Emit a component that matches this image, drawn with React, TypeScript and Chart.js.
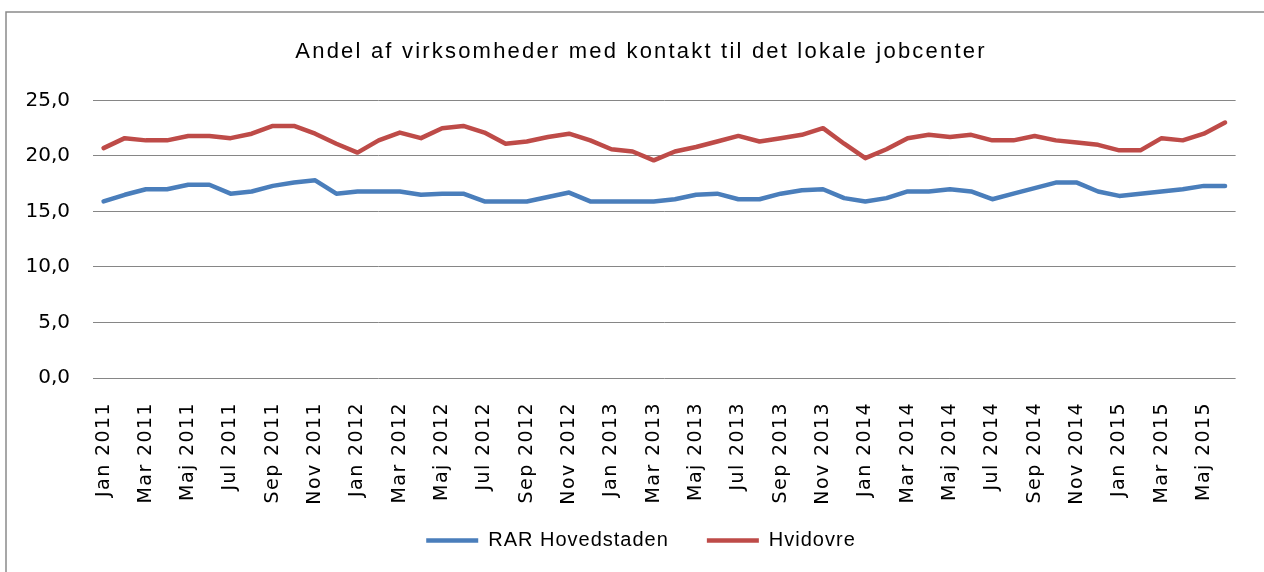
import { useEffect, useRef } from 'react';
import { Chart, registerables } from 'chart.js';

Chart.register(...registerables);

const categories = [
  'Jan 2011', 'Feb 2011', 'Mar 2011', 'Apr 2011', 'Maj 2011', 'Jun 2011', 'Jul 2011', 'Aug 2011', 'Sep 2011', 'Okt 2011', 'Nov 2011', 'Dec 2011',
  'Jan 2012', 'Feb 2012', 'Mar 2012', 'Apr 2012', 'Maj 2012', 'Jun 2012', 'Jul 2012', 'Aug 2012', 'Sep 2012', 'Okt 2012', 'Nov 2012', 'Dec 2012',
  'Jan 2013', 'Feb 2013', 'Mar 2013', 'Apr 2013', 'Maj 2013', 'Jun 2013', 'Jul 2013', 'Aug 2013', 'Sep 2013', 'Okt 2013', 'Nov 2013', 'Dec 2013',
  'Jan 2014', 'Feb 2014', 'Mar 2014', 'Apr 2014', 'Maj 2014', 'Jun 2014', 'Jul 2014', 'Aug 2014', 'Sep 2014', 'Okt 2014', 'Nov 2014', 'Dec 2014',
  'Jan 2015', 'Feb 2015', 'Mar 2015', 'Apr 2015', 'Maj 2015', 'Jun 2015',
];

const rarHovedstaden = [
  15.9, 16.5, 17.0, 17.0, 17.4, 17.4, 16.6, 16.8, 17.3, 17.6, 17.8, 16.6,
  16.8, 16.8, 16.8, 16.5, 16.6, 16.6, 15.9, 15.9, 15.9, 16.3, 16.7, 15.9,
  15.9, 15.9, 15.9, 16.1, 16.5, 16.6, 16.1, 16.1, 16.6, 16.9, 17.0, 16.2,
  15.9, 16.2, 16.8, 16.8, 17.0, 16.8, 16.1, 16.6, 17.1, 17.6, 17.6, 16.8,
  16.4, 16.6, 16.8, 17.0, 17.3, 17.3,
];

const hvidovre = [
  20.7, 21.6, 21.4, 21.4, 21.8, 21.8, 21.6, 22.0, 22.7, 22.7, 22.0, 21.1,
  20.3, 21.4, 22.1, 21.6, 22.5, 22.7, 22.1, 21.1, 21.3, 21.7, 22.0, 21.4,
  20.6, 20.4, 19.6, 20.4, 20.8, 21.3, 21.8, 21.3, 21.6, 21.9, 22.5, 21.1,
  19.8, 20.6, 21.6, 21.9, 21.7, 21.9, 21.4, 21.4, 21.8, 21.4, 21.2, 21.0,
  20.5, 20.5, 21.6, 21.4, 22.0, 23.0,
];

const seriesNames = ['RAR Hovedstaden', 'Hvidovre'];
const chartTitle = 'Andel af virksomheder med kontakt til det lokale jobcenter';
const yMin = 0;
const yMax = 25;
const yStep = 5;

const spacingPlugin = {
  id: 'letterSpacingPlugin',
  beforeLayout(chart: any) {
    chart.ctx.letterSpacing = '1px';
  },
  afterLayout(chart: any) {
    chart.ctx.letterSpacing = '0px';
    const wrap = (obj: any, key: string, sp: string) => {
      if (!obj || obj['__wrapped_' + key]) return;
      const orig = obj[key];
      obj[key] = function (...args: any[]) {
        const c = chart.ctx;
        c.save();
        c.letterSpacing = sp;
        const r = orig.apply(this, args);
        c.restore();
        return r;
      };
      obj['__wrapped_' + key] = true;
    };
    wrap(chart.scales.x, 'drawLabels', '1.4px');
    wrap(chart.scales.y, 'drawLabels', '0px');
    wrap(chart.titleBlock, 'draw', '2.2px');
    wrap(chart.legend, 'draw', '1px');
    // do not clip tick labels to the scale boxes
    chart.scales.x._computeLabelArea = () => undefined;
    chart.scales.y._computeLabelArea = () => undefined;
  },
};

const framePlugin = {
  id: 'framePlugin',
  beforeDraw(chart: any) {
    const ctx = chart.ctx;
    ctx.save();
    ctx.fillStyle = '#ffffff';
    ctx.fillRect(0, 0, chart.width, chart.height);
    ctx.strokeStyle = '#8a8a8a';
    ctx.lineWidth = 1.5;
    ctx.beginPath();
    ctx.moveTo(6, chart.height);
    ctx.lineTo(6, 12);
    ctx.lineTo(chart.width, 12);
    ctx.stroke();
    ctx.restore();
  },
};

export default function App() {
  const canvasRef = useRef<HTMLCanvasElement | null>(null);

  useEffect(() => {
    if (!canvasRef.current) return;
    const chart = new Chart(canvasRef.current, {
      type: 'line',
      data: {
        labels: categories,
        datasets: [
          {
            label: seriesNames[0],
            data: rarHovedstaden,
            borderColor: '#4A7EBB',
            backgroundColor: '#4A7EBB',
            borderWidth: 4.5,
            pointRadius: 0,
            tension: 0,
            borderCapStyle: 'round',
            borderJoinStyle: 'round',
          },
          {
            label: seriesNames[1],
            data: hvidovre,
            borderColor: '#BE4B48',
            backgroundColor: '#BE4B48',
            borderWidth: 4.5,
            pointRadius: 0,
            tension: 0,
            borderCapStyle: 'round',
            borderJoinStyle: 'round',
          },
        ],
      },
      options: {
        responsive: false,
        animation: false,
        devicePixelRatio: 1,
        layout: { padding: { left: 35, right: 17, top: 0, bottom: 11.5 } },
        plugins: {
          tooltip: { enabled: false },
          title: {
            display: true,
            text: chartTitle,
            color: '#000000',
            font: { family: '"Liberation Sans", sans-serif', size: 22, weight: 'normal' },
            padding: { top: 38.5, bottom: 35.5 },
          },
          legend: {
            display: true,
            position: 'bottom',
            labels: {
              usePointStyle: true,
              pointStyle: 'line',
              pointStyleWidth: 52,
              padding: 38,
              color: '#000000',
              font: { family: '"Liberation Sans", sans-serif', size: 20 },
            },
          },
        },
        scales: {
          x: {
            type: 'category',
            offset: true,
            grid: { display: false },
            border: { display: false },
            ticks: {
              autoSkip: false,
              maxRotation: 90,
              minRotation: 90,
              padding: 16,
              color: '#000000',
              font: { family: '"DejaVu Sans", sans-serif', size: 19 },
              callback: (_v: any, i: number) => (i % 2 === 0 ? categories[i] : ''),
            },
            afterFit: (s: any) => {
              s.height = 114.5;
            },
          },
          y: {
            min: yMin,
            max: yMax,
            grid: { color: '#868686', lineWidth: 1, drawTicks: false },
            border: { display: false },
            ticks: {
              stepSize: yStep,
              padding: 23,
              color: '#000000',
              font: { family: '"DejaVu Sans", sans-serif', size: 20 },
              callback: (v: any) => Number(v).toFixed(1).replace('.', ','),
            },
            afterFit: (s: any) => {
              s.width = 58;
            },
          },
        },
      },
      plugins: [spacingPlugin, framePlugin],
    } as any);
    return () => chart.destroy();
  }, []);

  return (
    <canvas
      ref={canvasRef}
      width={1264}
      height={572}
      style={{ position: 'fixed', left: 0, top: 0, width: 1264, height: 572, display: 'block' }}
    />
  );
}
